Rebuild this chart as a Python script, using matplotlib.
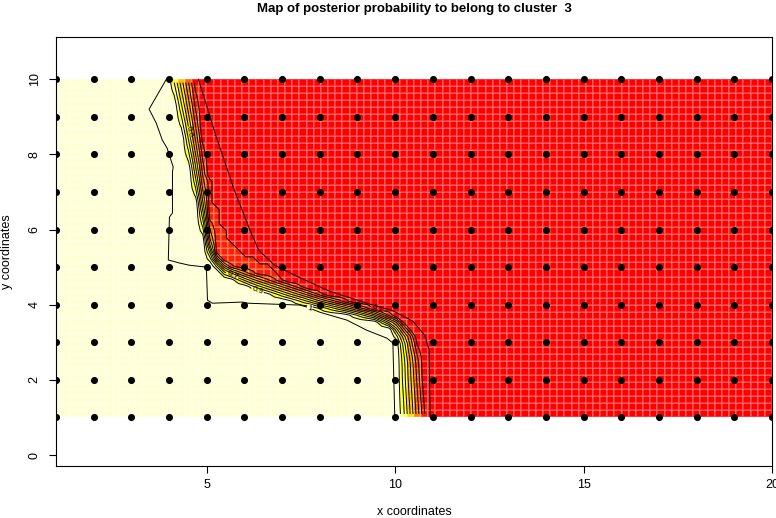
import numpy as np
import matplotlib
matplotlib.use("Agg")
import matplotlib.pyplot as plt
from matplotlib.colors import ListedColormap, BoundaryNorm
from matplotlib.path import Path

# sampling sites (regular grid)
site_x = np.arange(1, 21)
site_y = np.arange(1, 11)

# 0.5 contour, with the width of the 0 -> 1 ramp at each vertex
mid_x = [4.33, 4.35, 4.55, 4.73, 4.93, 5.07, 5.2, 5.5, 6.3, 7.2, 8.0, 8.8, 9.5, 10.0, 10.3, 10.4, 10.42, 10.48, 10.5]
mid_y = [10.6, 10.0, 8.9, 7.85, 6.52, 5.64, 5.25, 4.95, 4.65, 4.35, 4.1, 3.9, 3.72, 3.5, 3.1, 2.5, 2.0, 1.0, 0.4]
mid_w = [0.76, 0.76, 0.65, 0.54, 0.38, 0.33, 0.35, 0.45, 0.58, 0.58, 0.5, 0.44, 0.4, 0.45, 0.6, 0.72, 0.75, 0.78, 0.78]

# orange patch just right of the steep part (values a bit above 0.1)
patch_x = [4.9, 5.05, 5.25, 5.45, 5.75, 6.3, 6.9, 6.9, 6.3, 5.3, 4.9, 4.7, 4.6]
patch_y = [8.2, 7.5, 6.7, 6.0, 5.55, 5.2, 4.95, 4.35, 4.5, 5.0, 5.8, 7.0, 8.2]
patch_val = 0.14

# outer contours (probability exactly 1 / exactly 0)
one_x = [3.93, 3.47, 3.66, 3.82, 3.95, 4.11, 4.09, 4.09, 4.01, 3.98, 4.27, 4.54, 4.99, 5.02, 5.15, 5.95,
         6.08, 7.47, 7.65, 8.0, 8.72, 9.25, 9.78, 9.94, 9.99]
one_y = [10.0, 9.20, 8.83, 8.38, 8.16, 7.66, 7.53, 6.44, 6.33, 5.19, 5.11, 5.05, 5.0, 4.12, 4.04, 4.07,
         4.04, 3.99, 3.94, 3.80, 3.59, 3.32, 3.11, 2.98, 1.0]
zero_x = [4.78, 5.25, 5.75, 6.14, 6.38, 6.8, 7.47, 8.26, 9.25, 9.94, 10.47, 10.79, 10.9, 10.93]
zero_y = [10.0, 8.47, 7.0, 6.0, 5.45, 5.05, 4.72, 4.36, 4.04, 3.84, 3.56, 3.18, 2.8, 1.0]

levels = [0.1, 0.2, 0.3, 0.4, 0.5, 0.6, 0.7, 0.8, 0.9]
label_pos = [(5.68, 4.79), (6.35, 4.39), (9.52, 3.87), (4.55, 8.6)]

heat12 = ["#FF0000", "#FF2000", "#FF4000", "#FF6000", "#FF8000", "#FF9F00",
          "#FFBF00", "#FFDF00", "#FFFF00", "#FFFF2A", "#FFFF80", "#FFFFD5"]

# --- build the probability map on the image cells -------------------------
nx, ny = 100, 48
xe = np.linspace(1, 20, nx + 1)
ye = np.linspace(1, 10, ny + 1)
xc = (xe[:-1] + xe[1:]) / 2
yc = (ye[:-1] + ye[1:]) / 2
XX, YY = np.meshgrid(xc, yc)
P = np.column_stack([XX.ravel(), YY.ravel()])

A = np.column_stack([mid_x[:-1], mid_y[:-1]])
B = np.column_stack([mid_x[1:], mid_y[1:]])
wa = np.array(mid_w[:-1])
wb = np.array(mid_w[1:])
AB = B - A
t = ((P[:, None, :] - A[None]) * AB[None]).sum(-1) / (AB ** 2).sum(-1)[None]
t = np.clip(t, 0, 1)
Q = A[None] + t[..., None] * AB[None]
d = np.sqrt(((P[:, None, :] - Q) ** 2).sum(-1))
k = d.argmin(1)
dist = d[np.arange(len(P)), k]
w = wa[k] + t[np.arange(len(P)), k] * (wb[k] - wa[k])

left_poly = Path(np.vstack([np.column_stack([mid_x, mid_y]), [[0, 0.4], [0, 10.6]]]))
side = np.where(left_poly.contains_points(P), 1.0, -1.0)
prob = np.clip(0.5 + side * dist / w, 0, 1)

in_patch = Path(np.column_stack([patch_x, patch_y])).contains_points(P)
prob = np.where(in_patch, np.maximum(prob, patch_val), prob)
prob = prob.reshape(XX.shape)

# --- figure -----------------------------------------------------------------
plt.rcParams['font.family'] = ['Liberation Sans', 'DejaVu Sans']
fig = plt.figure(figsize=(7.76, 5.18), dpi=100)
ax = fig.add_axes([56 / 776, 52 / 518, 716 / 776, 429 / 518])

cmap = ListedColormap(heat12)
cmap.set_over(heat12[-1])
norm = BoundaryNorm(np.linspace(0, 1, 13), 12)
ax.pcolormesh(xe, ye, prob, cmap=cmap, norm=norm, edgecolors=(1, 1, 1, 0.2), linewidth=0.3)

cs = ax.contour(xc, yc, prob, levels=levels, colors='k', linewidths=0.7)
ax.clabel(cs, fontsize=6, fmt='%g', inline=True, inline_spacing=1, manual=label_pos)

ax.plot(one_x, one_y, color='k', lw=0.7)
ax.plot(zero_x, zero_y, color='k', lw=0.7)
ax.text(7.73, 3.9, '1', fontsize=6, ha='center', va='center', rotation=-8,
        bbox=dict(facecolor=heat12[-1], edgecolor='none', pad=0.3))

sx, sy = np.meshgrid(site_x, site_y)
ax.scatter(sx.ravel(), sy.ravel(), s=26, c='k', zorder=5, linewidths=0)

ax.set_xlim(1, 20)
ax.set_ylim(-0.29, 11.12)
ax.set_xticks([5, 10, 15, 20])
ax.set_yticks([0, 2, 4, 6, 8, 10])
ax.tick_params(direction='out', length=5, width=0.8, labelsize=9)
ax.tick_params(axis='x', pad=4)
ax.tick_params(axis='y', pad=6, labelrotation=90)
for lab in ax.get_yticklabels():
    lab.set_va('center')
for s in ax.spines.values():
    s.set_linewidth(0.8)

ax.set_xlabel('x coordinates', fontsize=9, labelpad=11)
ax.set_ylabel('y coordinates', fontsize=9, labelpad=11)
fig.text(414 / 776, 1 - 9 / 518, 'Map of posterior probability to belong to cluster  3',
         ha='center', va='center', fontsize=9.5, fontweight='bold')

fig.savefig('out.png', dpi=100)
